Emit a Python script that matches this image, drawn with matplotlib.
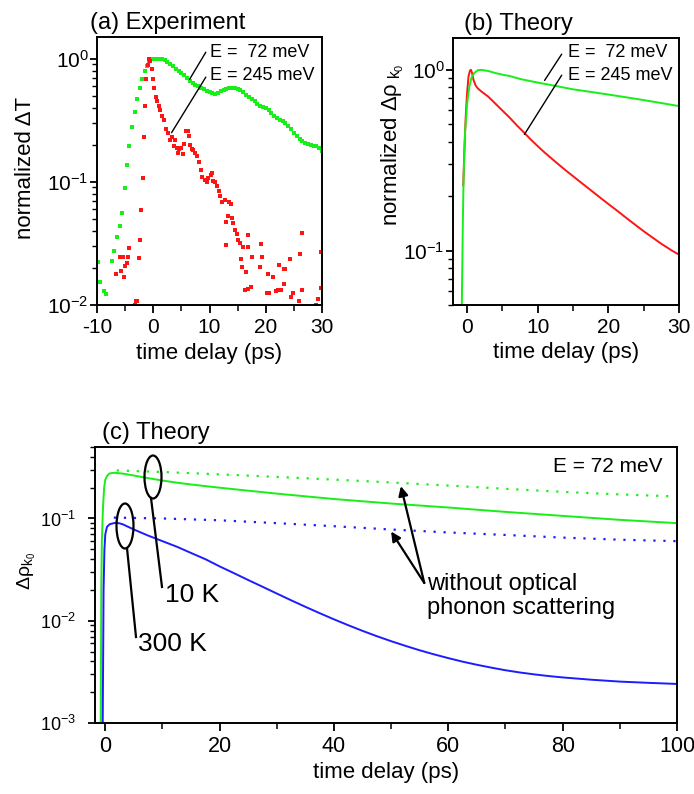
import matplotlib
matplotlib.use("Agg")
import matplotlib.pyplot as plt
from matplotlib.patches import Ellipse
from matplotlib.ticker import MultipleLocator, NullFormatter, LogLocator

plt.rcParams['font.family'] = ['Liberation Sans', 'DejaVu Sans']
plt.rcParams['mathtext.fontset'] = 'custom'
plt.rcParams['mathtext.rm'] = 'Liberation Sans'
plt.rcParams['mathtext.it'] = 'Liberation Sans:italic'
plt.rcParams['mathtext.default'] = 'regular'
plt.rcParams['axes.unicode_minus'] = False

GREEN = '#18ee18'
RED = '#ff1414'
BLUE = '#1c1cff'

# ---- (a) experiment: normalized dT vs delay (ps)
a_green_t = [-9.8, -9.4, -8.8, -8.4, -7.4, -7.0, -6.5, -6.0, -5.6, -5.1, -4.7, -4.25,
             -3.8, -3.3, -2.9, -2.4, -2.0, -1.55, -1.1, -0.7, -0.25,
             0.0, 0.5, 1.0, 1.5, 2.0, 2.5, 3.0, 3.5, 4.0, 4.5, 5.0, 5.5, 6.0, 6.5,
             7.0, 7.5, 8.0, 8.5, 9.0, 9.5, 10.0, 10.5, 11.0, 11.5, 12.0, 12.5, 13.0,
             13.5, 14.0, 14.5, 15.0, 15.5, 16.0, 16.5, 17.0, 17.5, 18.0, 18.5, 19.0,
             19.5, 20.0, 20.5, 21.0, 21.5, 22.0, 22.5, 23.0, 23.5, 24.0, 24.5, 25.0,
             25.5, 26.0, 26.5, 27.0, 27.5, 28.0, 28.5, 29.0, 29.5, 30.0]
a_green_v = [0.0225, 0.0155, 0.0129, 0.0123, 0.0229, 0.0275, 0.0355, 0.0436, 0.056,
             0.0887, 0.136, 0.194, 0.277, 0.37, 0.47, 0.578, 0.68, 0.79, 0.877, 0.95,
             0.99,
             1.0, 1.0, 1.0, 0.99, 0.97, 0.945, 0.91, 0.87, 0.825, 0.79, 0.765, 0.74,
             0.70, 0.66, 0.64, 0.615, 0.596, 0.58, 0.565, 0.55, 0.535, 0.525, 0.519,
             0.527, 0.545, 0.56, 0.57, 0.578, 0.58, 0.578, 0.568, 0.552, 0.532, 0.51,
             0.49, 0.47, 0.452, 0.432, 0.415, 0.405, 0.395, 0.38, 0.36, 0.342, 0.328,
             0.315, 0.31, 0.30, 0.285, 0.268, 0.25, 0.236, 0.224, 0.214, 0.206, 0.202,
             0.199, 0.197, 0.194, 0.19, 0.177]

a_red_t = [-6.7, -5.85, -5.67, -5.44, -5.14, -4.96, -4.67, -4.5, -4.25, -3.3, -3.07,
           -2.9, -2.6, -2.36, -2.13, -1.9, -1.72, -1.54, -1.3, -0.95, -0.83, -0.53,
           -0.24, 0.0, 0.12, 0.47, 0.71, 0.95, 1.18, 1.54, 1.89, 2.25, 2.6, 3.0, 3.4,
           3.66, 3.9, 4.2, 4.37, 4.5, 4.96, 5.37, 5.55, 5.79, 6.15, 6.38, 6.56, 6.86,
           7.15, 7.45, 7.74, 8.16, 8.5, 8.75, 9.2, 9.5, 9.8, 10.3, 10.5, 10.7, 10.9,
           11.3, 11.6, 11.9, 12.3, 12.8, 12.9, 13.0, 13.2, 13.5, 13.8, 13.95, 14.25,
           14.5, 14.8, 15.1, 15.4, 15.6, 15.8, 16.0, 16.3, 16.4, 16.8, 16.8, 16.9,
           17.4, 17.6, 19.0, 19.1, 19.4, 20.15, 20.4, 20.6, 21.3, 21.8, 22.1, 22.3,
           22.7, 23.2, 23.3, 23.5, 24.3, 24.5, 24.9, 25.9, 26.0, 26.4, 26.5, 29.0,
           29.2, 29.8, 29.9]
a_red_v = [0.0179, 0.0244, 0.019, 0.0244, 0.017, 0.0207, 0.022, 0.0244, 0.0289, 0.010,
           0.0108, 0.0108, 0.0243, 0.034, 0.059, 0.107, 0.233, 0.41, 0.68, 0.89, 1.0,
           0.95, 0.82, 0.68, 0.58, 0.49, 0.45, 0.41, 0.38, 0.34, 0.315, 0.27, 0.25,
           0.22, 0.23, 0.196, 0.217, 0.188, 0.171, 0.185, 0.19, 0.169, 0.204, 0.257,
           0.257, 0.237, 0.20, 0.185, 0.182, 0.171, 0.163, 0.146, 0.124, 0.110, 0.104,
           0.100, 0.107, 0.114, 0.118, 0.101, 0.100, 0.092, 0.084, 0.077, 0.069, 0.071,
           0.047, 0.0308, 0.053, 0.068, 0.066, 0.051, 0.046, 0.041, 0.038, 0.034,
           0.032, 0.0235, 0.0205, 0.0298, 0.0132, 0.0187, 0.037, 0.0298, 0.0136,
           0.0141, 0.0244, 0.0202, 0.031, 0.0244, 0.0125, 0.0179, 0.0125, 0.017,
           0.0129, 0.0132, 0.0211, 0.0132, 0.0148, 0.0195, 0.0195, 0.0235, 0.0116,
           0.0125, 0.0108, 0.026, 0.0387, 0.0132, 0.010, 0.0112, 0.0138, 0.027]

# ---- (b) theory: normalized delta rho
b_green_t = [-0.75, -0.6, -0.5, -0.3, 0.0, 0.3, 0.6, 1.0, 1.5, 2.0, 3.0, 4.0, 5.0,
             6.0, 7.5, 10.0, 12.5, 15.0, 17.5, 20.0, 22.5, 25.0, 27.5, 30.0]
b_green_v = [0.05, 0.15, 0.25, 0.45, 0.65, 0.80, 0.90, 0.96, 0.995, 1.0, 0.985, 0.96,
             0.94, 0.925, 0.89, 0.85, 0.815, 0.78, 0.755, 0.73, 0.705, 0.68, 0.655,
             0.63]
b_red_t = [-0.55, -0.4, -0.2, 0.0, 0.2, 0.4, 0.55, 0.7, 0.9, 1.2, 1.5, 2.0, 3.0, 4.0,
           5.0, 6.0, 7.0, 8.0, 9.0, 10.0, 11.0, 12.5, 14.0, 15.0, 16.0, 17.5, 19.0,
           20.0, 21.0, 22.5, 24.0, 25.0, 26.0, 27.5, 29.0, 30.0]
b_red_v = [0.23, 0.35, 0.55, 0.75, 0.92, 0.99, 1.0, 0.96, 0.88, 0.82, 0.79, 0.76,
           0.71, 0.65, 0.595, 0.545, 0.495, 0.452, 0.412, 0.378, 0.348, 0.31, 0.277,
           0.258, 0.24, 0.216, 0.194, 0.181, 0.169, 0.152, 0.137, 0.128, 0.12, 0.109,
           0.1, 0.095]

# ---- (c) theory, E = 72 meV
c_10k_t = [-0.8, -0.7, -0.6, -0.4, -0.2, 0.0, 0.3, 0.7, 1.5, 3.0, 5.0, 7.5, 10.0,
           12.5, 15.0, 20.0, 25.0, 30.0, 40.0, 50.0, 60.0, 70.0, 80.0, 90.0, 100.0]
c_10k_v = [0.001, 0.02, 0.06, 0.13, 0.20, 0.24, 0.26, 0.275, 0.28, 0.275, 0.263,
           0.248, 0.235, 0.224, 0.215, 0.20, 0.187, 0.175, 0.155, 0.14, 0.128, 0.116,
           0.106, 0.097, 0.09]
c_10k_nophon_t = [2.0, 10.0, 20.0, 30.0, 40.0, 50.0, 60.0, 70.0, 80.0, 90.0, 100.0]
c_10k_nophon_v = [0.295, 0.285, 0.27, 0.255, 0.24, 0.225, 0.21, 0.195, 0.182, 0.172,
                  0.164]
c_300k_t = [-0.45, -0.3, -0.15, 0.0, 0.3, 0.8, 1.5, 2.0, 3.0, 5.0, 7.5, 10.0, 12.5,
            15.0, 17.5, 20.0, 22.5, 25.0, 27.5, 30.0, 32.5, 35.0, 37.5, 40.0, 42.5,
            45.0, 47.5, 50.0, 52.5, 55.0, 57.5, 60.0, 62.5, 65.0, 67.5, 70.0, 72.5,
            75.0, 77.5, 80.0, 85.0, 90.0, 95.0, 100.0]
c_300k_v = [0.001, 0.02, 0.05, 0.07, 0.083, 0.088, 0.09, 0.091, 0.088, 0.078, 0.068,
            0.06, 0.053, 0.046, 0.04, 0.034, 0.0292, 0.025, 0.0215, 0.01845, 0.01585,
            0.01368, 0.01186, 0.01032, 0.00904, 0.00796, 0.00706, 0.00631, 0.00568,
            0.00514, 0.00469, 0.00431, 0.00398, 0.00371, 0.00348, 0.00328, 0.00312,
            0.00299, 0.00288, 0.00279, 0.00265, 0.00254, 0.00247, 0.00241]
c_300k_nophon_t = [1.5, 10.0, 20.0, 30.0, 40.0, 50.0, 60.0, 70.0, 80.0, 90.0, 100.0]
c_300k_nophon_v = [0.102, 0.10, 0.096, 0.09, 0.084, 0.078, 0.073, 0.069, 0.065,
                   0.062, 0.06]

W, H = 694, 794
fig = plt.figure(figsize=(W / 100, H / 100), dpi=100)


def px_rect(left, top, right, bottom):
    return [left / W, 1 - bottom / H, (right - left) / W, (bottom - top) / H]


def style(ax, ytick_pad, ysize=15, xsize=15):
    for s in ax.spines.values():
        s.set_linewidth(1.4)
    ax.tick_params(which='both', direction='out', top=False, right=False)
    ax.tick_params(axis='x', which='major', length=6, width=1.3, labelsize=xsize, pad=3.5)
    ax.tick_params(axis='x', which='minor', length=4, width=1.1)
    ax.tick_params(axis='y', which='major', length=5, width=1.3, labelsize=ysize, pad=ytick_pad)
    ax.tick_params(axis='y', which='minor', length=3.5, width=1.0)
    ax.yaxis.set_minor_locator(LogLocator(base=10, subs=range(2, 10), numticks=20))
    ax.yaxis.set_minor_formatter(NullFormatter())


# (a)
ax_a = fig.add_axes(px_rect(97, 37, 322, 305))
ax_a.set_yscale('log')
ax_a.plot(a_green_t, a_green_v, 's', color=GREEN, ms=2.7, mew=0)
ax_a.plot(a_red_t, a_red_v, 's', color=RED, ms=2.5, mew=0)
ax_a.set_xlim(-10, 30)
ax_a.set_ylim(0.01, 1.5)
ax_a.xaxis.set_major_locator(MultipleLocator(10))
ax_a.xaxis.set_minor_locator(MultipleLocator(5))
style(ax_a, 1)
ax_a.set_xlabel('time delay (ps)', fontsize=16)
ax_a.xaxis.set_label_coords(0.5, -0.14)
ax_a.set_ylabel('normalized ΔT', fontsize=16)
ax_a.yaxis.set_label_coords(-0.27, 0.51)
ax_a.set_title('(a) Experiment', fontsize=17, loc='left', x=-0.03, pad=6)
ax_a.annotate('', xy=(6.2, 0.65), xytext=(9.6, 1.18),
              arrowprops=dict(arrowstyle='-', lw=1, color='black'))
ax_a.annotate('', xy=(3.0, 0.24), xytext=(9.6, 0.74),
              arrowprops=dict(arrowstyle='-', lw=1, color='black'))
ax_a.text(10.1, 1.12, 'E =  72 meV', fontsize=13, va='center', ha='left')
ax_a.text(10.1, 0.73, 'E = 245 meV', fontsize=13, va='center', ha='left')

# (b)
ax_b = fig.add_axes(px_rect(453, 38, 679, 305))
ax_b.set_yscale('log')
ax_b.plot(b_red_t, b_red_v, '-', color=RED, lw=1.4)
ax_b.plot(b_green_t, b_green_v, '-', color=GREEN, lw=1.4)
ax_b.set_xlim(-2, 30)
ax_b.set_ylim(0.05, 1.5)
ax_b.xaxis.set_major_locator(MultipleLocator(10))
ax_b.xaxis.set_minor_locator(MultipleLocator(5))
style(ax_b, 1)
ax_b.set_xlabel('time delay (ps)', fontsize=16)
ax_b.xaxis.set_label_coords(0.5, -0.14)
ax_b.set_ylabel(r'normalized $\Delta\rho_{\ k_0}$', fontsize=16)
ax_b.yaxis.set_label_coords(-0.21, 0.60)
ax_b.set_title('(b) Theory', fontsize=17, loc='left', x=0.05, pad=6)
ax_b.annotate('', xy=(10.75, 0.848), xytext=(13.6, 1.257),
              arrowprops=dict(arrowstyle='-', lw=1, color='black'))
ax_b.annotate('', xy=(7.9, 0.426), xytext=(13.6, 0.962),
              arrowprops=dict(arrowstyle='-', lw=1, color='black'))
ax_b.text(14.3, 1.24, 'E =  72 meV', fontsize=13, va='center', ha='left')
ax_b.text(14.3, 0.927, 'E = 245 meV', fontsize=13, va='center', ha='left')

# (c)
ax_c = fig.add_axes(px_rect(95, 447, 677, 723))
ax_c.set_yscale('log')
ax_c.plot(c_10k_t, c_10k_v, '-', color=GREEN, lw=1.4)
ax_c.plot(c_300k_t, c_300k_v, '-', color=BLUE, lw=1.4)
ax_c.plot(c_10k_nophon_t, c_10k_nophon_v, color=GREEN, lw=1.6, ls=(0, (1, 3.5)))
ax_c.plot(c_300k_nophon_t, c_300k_nophon_v, color=BLUE, lw=1.6, ls=(0, (1, 3.5)))
ax_c.set_xlim(-1.8, 100)
ax_c.set_ylim(0.001, 0.5)
ax_c.xaxis.set_major_locator(MultipleLocator(20))
ax_c.xaxis.set_minor_locator(MultipleLocator(10))
style(ax_c, 9, ysize=13, xsize=15.5)
ax_c.set_xlabel('time delay (ps)', fontsize=16)
ax_c.xaxis.set_label_coords(0.5, -0.14)
ax_c.set_ylabel(r'$\Delta\rho_{k_0}$', fontsize=14)
ax_c.yaxis.set_label_coords(-0.098, 0.55)
ax_c.set_title('(c) Theory', fontsize=17, loc='left', x=0.012, pad=6)
ax_c.text(0.975, 0.93, 'E = 72 meV', transform=ax_c.transAxes, fontsize=15,
          ha='right', va='center')

# ellipses marking 10 K and 300 K curves, with leader lines
for cx, cy, w, h, x0, y0, x1, y1, label, lx, ly in [
        (153, 477, 17, 43, 151, 498, 162, 587, '10 K', 165, 595),
        (125, 526, 17, 45, 127, 548, 136, 637, '300 K', 138, 644)]:
    fig.add_artist(Ellipse((cx / W, 1 - cy / H), w / W, h / H, fill=False,
                           lw=1.6, ec='black', transform=fig.transFigure))
    fig.add_artist(plt.Line2D([x0 / W, x1 / W], [1 - y0 / H, 1 - y1 / H],
                              lw=1.6, color='black', transform=fig.transFigure))
    fig.text(lx / W, 1 - ly / H, label, fontsize=19, ha='left', va='center')

for tx, ty in [(51.7, 0.207), (50.0, 0.0745)]:
    ax_c.annotate('', xy=(tx, ty), xytext=(55.8, 0.0234),
                  arrowprops=dict(arrowstyle='-|>', lw=1.6, color='black',
                                  mutation_scale=14, shrinkA=0, shrinkB=0))
fig.text(427 / W, 1 - 596 / H, 'without optical\nphonon scattering', fontsize=17,
         ha='left', va='center', linespacing=1.15)

fig.savefig('out.png', dpi=100)
